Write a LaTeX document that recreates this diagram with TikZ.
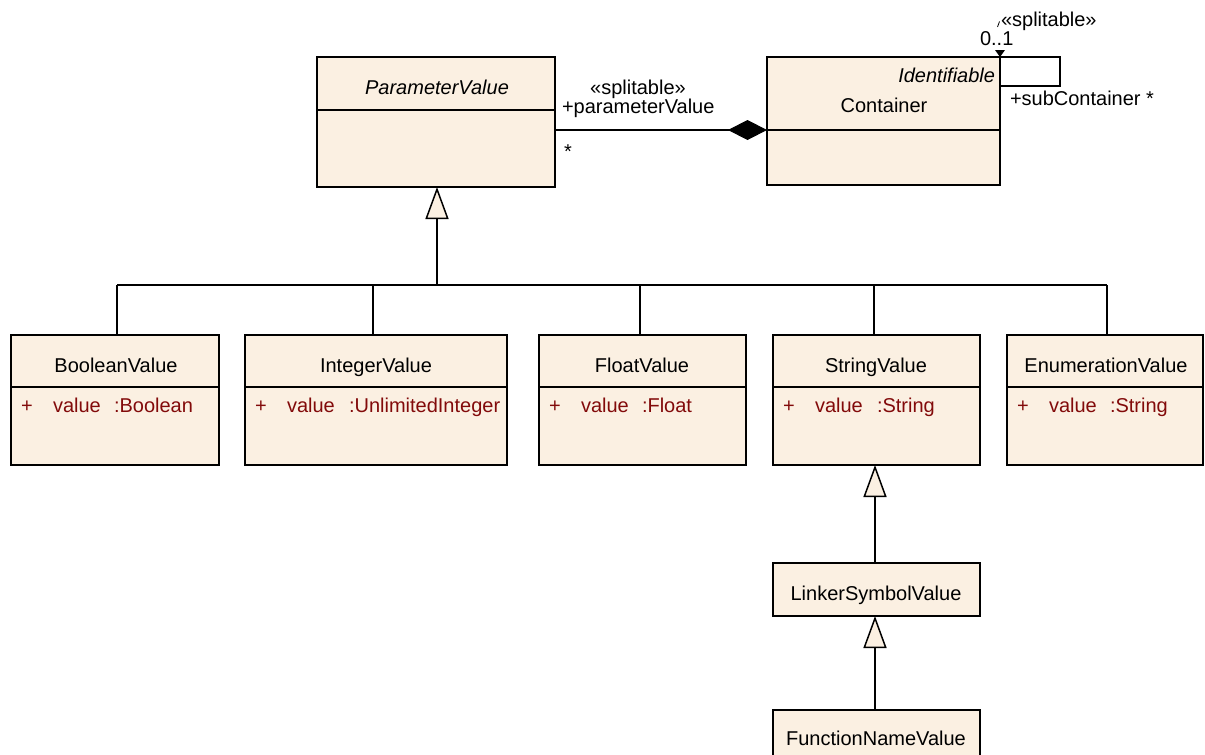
\documentclass[tikz,border=0pt]{standalone}
\usepackage{fontspec}
\setmainfont{Liberation Sans}
\usetikzlibrary{arrows.meta}
\definecolor{boxfill}{RGB}{251,240,226}
\definecolor{attr}{RGB}{130,10,10}
\begin{document}
\begin{tikzpicture}[x=1pt,y=-1pt,
  every node/.style={font=\fontsize{20}{24}\selectfont, inner sep=0pt, outer sep=0pt},
  cls/.style={draw, fill=boxfill, line width=1.5pt, anchor=north west},
  lbl/.style={anchor=base},
  lblw/.style={anchor=base west},
  attrtxt/.style={anchor=base west, text=attr},
  conn/.style={line width=1.5pt},
  gen/.style={conn, -{Triangle[length=32pt,width=23pt,fill=boxfill,line width=1.5pt]}},
  comp/.style={conn, -{Diamond[length=39pt,width=20pt,line width=1pt]}}
  ]
\useasboundingbox (0,0) rectangle (1205,755);

% ---------- top classes ----------
\node[cls, minimum width=238pt, minimum height=130pt] (pv) at (317,57) {};
\draw[conn] (pv.west |- 0,110) -- (pv.east |- 0,110);
\node[lbl, font=\fontsize{20}{24}\selectfont\itshape] (pvt) at (437,94) {ParameterValue};

\node[cls, minimum width=233pt, minimum height=128pt] (cont) at (767,57) {};
\draw[conn] (cont.west |- 0,130) -- (cont.east |- 0,130);
\node[anchor=base east, font=\fontsize{20}{24}\selectfont\itshape] (idt) at (995,82) {Identifiable};
\node[lbl] (ct) at (884,112) {Container};

% composition
\draw[comp] (pv.east |- 0,130) -- (cont.west |- 0,130);
\node[lbl] (l1) at (638,94) {«splitable»};
\node[lblw] (l2) at (562,113) {+parameterValue};
\node[lblw] (l3) at (564,158) {*};

% self association
\coordinate (sl1) at (1060,86);
\draw[conn] (cont.east |- sl1) -- (sl1) -- (sl1 |- cont.north east) -- (cont.north east);
\fill (995,50) -- (1005,50) -- (cont.north east) -- cycle;
\draw[line width=0.8pt] (997.5,27) -- (999.5,21.5);
\node[lblw] (l4) at (1001,26) {«splitable»};
\node[lblw] (l5) at (980,45) {0..1};
\node[lblw] (l6) at (1010,105) {+subContainer *};

% ---------- generalization tree ----------
\coordinate (j0) at (437,285);
\coordinate (jb) at (117,285);
\coordinate (ji) at (373,285);
\coordinate (jf) at (640,285);
\coordinate (js) at (874,285);
\coordinate (je) at (1107,285);
\draw[gen] (j0) -- (pv.south -| j0);
\draw[conn] (jb) -- (je);

% ---------- bottom row ----------
\node[cls, minimum width=208pt, minimum height=130pt] (bool) at (11,335) {};
\node[cls, minimum width=262pt, minimum height=130pt] (int) at (245,335) {};
\node[cls, minimum width=207pt, minimum height=130pt] (flt) at (539,335) {};
\node[cls, minimum width=207pt, minimum height=130pt] (str) at (773,335) {};
\node[cls, minimum width=196pt, minimum height=130pt] (enm) at (1007,335) {};

\draw[conn] (jb) -- (bool.north -| jb);
\draw[conn] (ji) -- (int.north -| ji);
\draw[conn] (jf) -- (flt.north -| jf);
\draw[conn] (js) -- (str.north -| js);
\draw[conn] (je) -- (enm.north -| je);

\foreach \n in {bool,int,flt,str,enm}{
  \draw[conn] (\n.west |- 0,387) -- (\n.east |- 0,387);
}

\node[lbl] (tb) at (116,372) {BooleanValue};
\node[lbl] (ti) at (376,372) {IntegerValue};
\node[lbl] (tf) at (642,372) {FloatValue};
\node[lbl] (ts) at (876,372) {StringValue};
\node[lbl] (te) at (1106,372) {EnumerationValue};

\node[attrtxt] at (21,412) {+};
\node[attrtxt] at (53,412) {value};
\node[attrtxt] at (114,412) {:Boolean};

\node[attrtxt] at (255,412) {+};
\node[attrtxt] at (287,412) {value};
\node[attrtxt] at (349,412) {:UnlimitedInteger};

\node[attrtxt] at (549,412) {+};
\node[attrtxt] at (581,412) {value};
\node[attrtxt] at (642,412) {:Float};

\node[attrtxt] at (783,412) {+};
\node[attrtxt] at (815,412) {value};
\node[attrtxt] at (877,412) {:String};

\node[attrtxt] at (1017,412) {+};
\node[attrtxt] at (1049,412) {value};
\node[attrtxt] at (1110,412) {:String};

% ---------- string subclasses ----------
\node[cls, minimum width=207pt, minimum height=53pt] (lnk) at (773,563) {};
\node[lbl] (tl) at (876,600) {LinkerSymbolValue};
\node[cls, minimum width=207pt, minimum height=70pt] (fn) at (773,710) {};
\node[lbl] (tfn) at (876,745) {FunctionNameValue};

\draw[gen] (lnk.north -| 875,0) -- (str.south -| 875,0);
\draw[gen] (fn.north -| 875,0) -- (lnk.south -| 875,0);
\end{tikzpicture}
\end{document}
